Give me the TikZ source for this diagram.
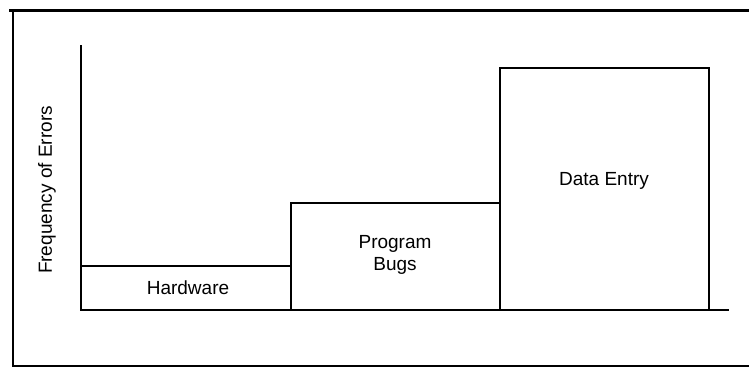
\documentclass[tikz,border=0pt]{standalone}
\usepackage{fontspec}
\setmainfont{Liberation Sans}
\begin{document}
\begin{tikzpicture}[x=1pt,y=-1pt,
  frame/.style={line width=2pt},
  barline/.style={line width=2pt},
  lbl/.style={font=\fontsize{19}{22}\selectfont, align=center, inner sep=0pt}]
\useasboundingbox (0,0) rectangle (749,367);
% frame
\draw[frame, line width=3pt] (9,10) -- (749,10);
\draw[frame] (13,10) -- (13,367);
\draw[frame, line width=1.5pt] (13,366) -- (749,366);
% axes
\coordinate (ytop) at (81,45);
\coordinate (orig) at (81,310);
\coordinate (xend) at (729,310);
\draw[barline] (ytop) -- (orig) -- (xend);
% bars
\draw[barline] (81,310) rectangle (291,266);
\draw[barline] (291,310) rectangle (500,203);
\draw[barline] (500,310) rectangle (709,68);
% labels
\node[lbl] (hw) at (188,288) {Hardware};
\node[lbl] (pb) at (395,255) {Program\\Bugs};
\node[lbl] (de) at (604,181) {Data Entry};
\node[lbl, rotate=90] (yl) at (47,190) {Frequency of Errors};
\end{tikzpicture}
\end{document}
